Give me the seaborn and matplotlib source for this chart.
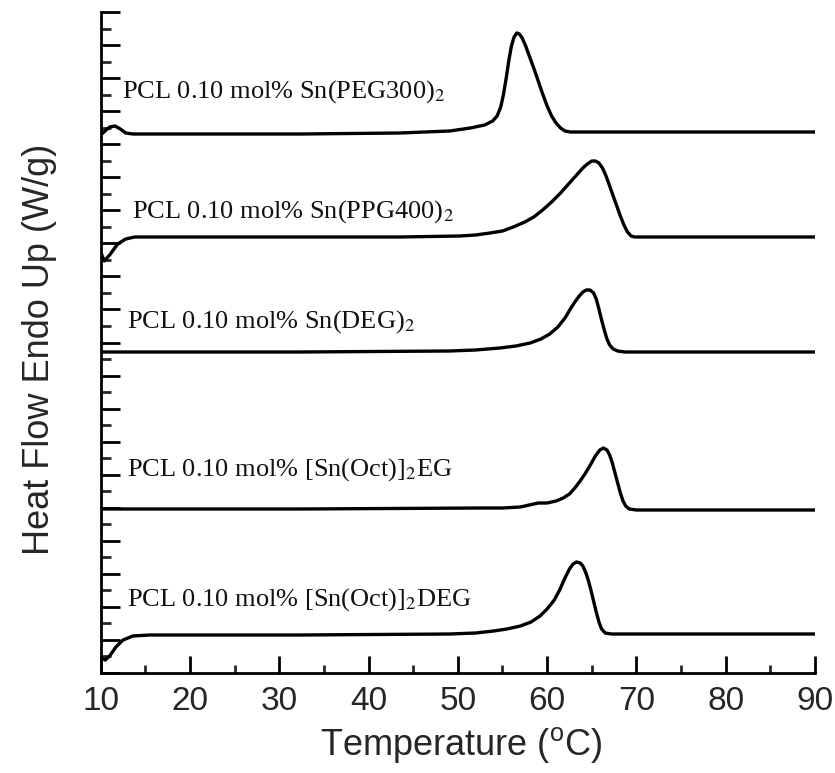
import matplotlib
matplotlib.use("Agg")
import matplotlib.pyplot as plt
import seaborn as sns
import pandas as pd
from matplotlib.ticker import MultipleLocator, NullFormatter

# ---- data (temperature in °C, heat flow in arbitrary stacked units) ----
labels = [
    r"PCL 0.10 mol% Sn(PEG300)$_2$",
    r"PCL 0.10 mol% Sn(PPG400)$_2$",
    r"PCL 0.10 mol% Sn(DEG)$_2$",
    r"PCL 0.10 mol% [Sn(Oct)]$_2$EG",
    r"PCL 0.10 mol% [Sn(Oct)]$_2$DEG",
]

t_peg300 = [10.0, 10.6, 11.0, 11.6, 12.2, 12.8, 13.6, 21.1, 32.3, 43.5, 49.1, 51.4, 53.0, 53.9,
            54.4, 54.8, 55.1, 55.4, 55.7, 56.0, 56.3, 56.6, 56.9, 57.2, 57.6, 58.0, 58.5, 59.0,
            59.5, 60.0, 60.5, 61.0, 61.5, 62.0, 62.6, 77.1, 90.0]
h_peg300 = [538, 543, 546, 547, 544, 540, 539, 539, 539, 540, 542, 545, 548, 552,
            557, 566, 578, 594, 612, 627, 636, 640, 639, 635, 627, 617, 605, 592,
            579, 567, 557, 550, 545, 542, 541, 541, 541]

t_ppg400 = [10.0, 10.4, 11.0, 11.9, 12.8, 13.8, 21.1, 32.3, 43.5, 50.2, 52.0, 53.6, 55.0, 56.2,
            57.5, 58.5, 59.5, 60.5, 61.5, 62.5, 63.3, 64.0, 64.5, 65.0, 65.4, 65.8, 66.2, 66.6,
            67.0, 67.4, 67.8, 68.2, 68.6, 69.0, 69.4, 69.8, 70.5, 77.1, 90.0]
h_ppg400 = [421, 412, 418, 429, 434, 436, 436, 436, 436, 437, 438, 440, 442, 446,
            451, 456, 463, 471, 480, 490, 498, 505, 509, 512, 512, 510, 505, 497,
            487, 477, 467, 457, 448, 441, 437, 436, 436, 436, 436]

t_deg = [10.0, 32.3, 49.1, 52.0, 54.7, 56.5, 58.1, 59.3, 60.3, 61.2, 62.0, 62.6, 63.1, 63.6,
         64.0, 64.4, 64.8, 65.2, 65.5, 65.8, 66.1, 66.4, 66.7, 67.0, 67.4, 67.9, 68.7, 90.0]
h_deg = [321, 321, 322, 323, 325, 327, 330, 334, 339, 346, 355, 364, 371, 377,
         381, 383, 383, 380, 374, 364, 353, 343, 334, 328, 324, 322, 321, 321]

t_oct_eg = [10.0, 32.3, 52.5, 55.0, 57.0, 58.0, 59.0, 60.0, 61.0, 61.8, 62.5, 63.1, 63.7, 64.3,
            64.9, 65.4, 65.9, 66.3, 66.7, 67.0, 67.3, 67.6, 67.9, 68.2, 68.5, 68.8, 69.2, 70.0,
            90.0]
h_oct_eg = [164, 164, 165, 165, 166, 168, 170, 170, 172, 175, 179, 185, 192, 200,
            209, 217, 223, 225, 223, 218, 210, 200, 190, 180, 172, 167, 164, 163,
            163]

t_oct_deg = [10.0, 10.5, 11.0, 11.7, 12.5, 13.6, 15.5, 32.3, 49.1, 52.0, 54.0, 55.5, 57.0, 58.2,
             59.2, 60.0, 60.8, 61.4, 62.0, 62.5, 62.9, 63.3, 63.7, 64.0, 64.3, 64.6, 64.9, 65.2,
             65.5, 65.8, 66.1, 66.5, 67.2, 90.0]
h_oct_deg = [16, 13, 17, 26, 33, 37, 38, 38, 39, 40, 42, 44, 47, 51,
             57, 64, 73, 83, 95, 104, 109, 111, 110, 107, 101, 93, 83, 72,
             61, 51, 44, 40, 39, 39]

x_ticks = [10, 20, 30, 40, 50, 60, 70, 80, 90]

series_t = [t_peg300, t_ppg400, t_deg, t_oct_eg, t_oct_deg]
series_h = [h_peg300, h_ppg400, h_deg, h_oct_eg, h_oct_deg]

frames = []
for i, (t, h) in enumerate(zip(series_t, series_h)):
    frames.append(pd.DataFrame({"T": t, "H": h, "sample": labels[i]}))
df = pd.concat(frames, ignore_index=True)

# ---- styling ----
sns.set_style("ticks")
plt.rcParams["font.family"] = ["Liberation Sans", "DejaVu Sans"]
plt.rcParams["mathtext.fontset"] = "stix"

fig = plt.figure(figsize=(8.35, 7.73), dpi=100)
ax = fig.add_axes([100.7 / 835, 1 - 673 / 773, (815 - 100.7) / 835, (673 - 12) / 773])

sns.lineplot(data=df, x="T", y="H", units="sample", estimator=None, sort=False,
             color="black", linewidth=2.4, ax=ax, legend=False)

# label positions (x in °C, y in plot units)
label_pos = [(12.4, 581), (13.5, 461), (12.9, 351), (12.9, 203), (12.9, 73)]
for lab, (lx, ly) in zip(labels, label_pos):
    ax.text(lx, ly, lab, fontsize=19, family=["Liberation Serif", "DejaVu Serif"],
            va="center", ha="left", color="#111111")

ax.set_xlim(10, 90)
ax.set_ylim(0, 661)
ax.set_xticks(x_ticks)
ax.set_xticklabels([str(v) for v in x_ticks])
ax.xaxis.set_minor_locator(MultipleLocator(5))
ax.yaxis.set_major_locator(MultipleLocator(33.05))
ax.yaxis.set_minor_locator(MultipleLocator(16.525))
ax.yaxis.set_major_formatter(NullFormatter())

ax.tick_params(axis="both", which="major", direction="in", width=2, color="black")
ax.tick_params(axis="x", which="major", length=12, labelsize=24, pad=9)
ax.tick_params(axis="x", which="minor", direction="in", length=6, width=2)
ax.tick_params(axis="y", which="major", length=14)
ax.tick_params(axis="y", which="minor", direction="in", length=7, width=2)

for side in ["left", "bottom"]:
    ax.spines[side].set_linewidth(2)
    ax.spines[side].set_color("black")
sns.despine(ax=ax, top=True, right=True)

ax.set_xlabel(r"Temperature ($\mathregular{^o}$C)", fontsize=26)
ax.set_ylabel("Heat Flow Endo Up (W/g)", fontsize=26)
ax.xaxis.set_label_coords(0.505, -0.109)
ax.xaxis.label.set_verticalalignment("center")
ax.yaxis.set_label_coords(-0.085, 0.49)
ax.yaxis.label.set_verticalalignment("center")

fig.savefig("out.png", dpi=100)
